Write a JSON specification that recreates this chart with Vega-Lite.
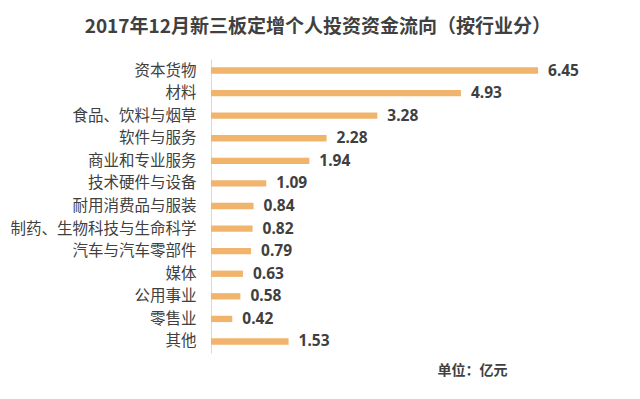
{
  "$schema": "https://vega.github.io/schema/vega-lite/v6.json",
  "width": 405.6,
  "height": 294,
  "autosize": {"type": "none"},
  "padding": {"left": 211, "top": 59, "right": 23.4, "bottom": 46},
  "background": "#ffffff",
  "title": {
    "text": "2017年12月新三板定增个人投资资金流向（按行业分）",
    "font": "Noto Sans CJK SC",
    "fontSize": 19,
    "fontWeight": "bold",
    "color": "#404040",
    "anchor": "middle",
    "dx": -96,
    "offset": 22
  },
  "config": {"view": {"stroke": null}},
  "data": {
    "values": [
      {"industry": "资本货物", "value": 6.45},
      {"industry": "材料", "value": 4.93},
      {"industry": "食品、饮料与烟草", "value": 3.28},
      {"industry": "软件与服务", "value": 2.28},
      {"industry": "商业和专业服务", "value": 1.94},
      {"industry": "技术硬件与设备", "value": 1.09},
      {"industry": "耐用消费品与服装", "value": 0.84},
      {"industry": "制药、生物科技与生命科学", "value": 0.82},
      {"industry": "汽车与汽车零部件", "value": 0.79},
      {"industry": "媒体", "value": 0.63},
      {"industry": "公用事业", "value": 0.58},
      {"industry": "零售业", "value": 0.42},
      {"industry": "其他", "value": 1.53}
    ]
  },
  "encoding": {
    "y": {
      "field": "industry",
      "type": "nominal",
      "sort": null,
      "scale": {"paddingInner": 0.72, "paddingOuter": 0.37},
      "axis": {
        "title": null,
        "ticks": false,
        "domainColor": "#D9D9D9",
        "domainWidth": 1,
        "labelFont": "Noto Sans CJK SC",
        "labelFontSize": 15.5,
        "labelColor": "#404040",
        "labelPadding": 15,
        "labelLimit": 400
      }
    },
    "x": {
      "field": "value",
      "type": "quantitative",
      "scale": {"domain": [0, 8], "nice": false},
      "axis": {
        "domain": false,
        "ticks": false,
        "labels": false,
        "grid": false,
        "title": "单位：亿元",
        "titleFont": "Noto Sans CJK SC",
        "titleFontSize": 14,
        "titleFontWeight": "bold",
        "titleColor": "#404040",
        "titleX": 261,
        "titleY": 17,
        "titleBaseline": "middle",
        "titleAnchor": "middle"
      }
    }
  },
  "layer": [
    {"mark": {"type": "bar", "color": "#F0B46C"}},
    {
      "mark": {
        "type": "text",
        "align": "left",
        "baseline": "middle",
        "dx": 10,
        "font": "Noto Sans",
        "fontSize": 15.5,
        "fontWeight": "bold",
        "color": "#404040"
      },
      "encoding": {"text": {"field": "value", "type": "quantitative", "format": ".2f"}}
    }
  ]
}
